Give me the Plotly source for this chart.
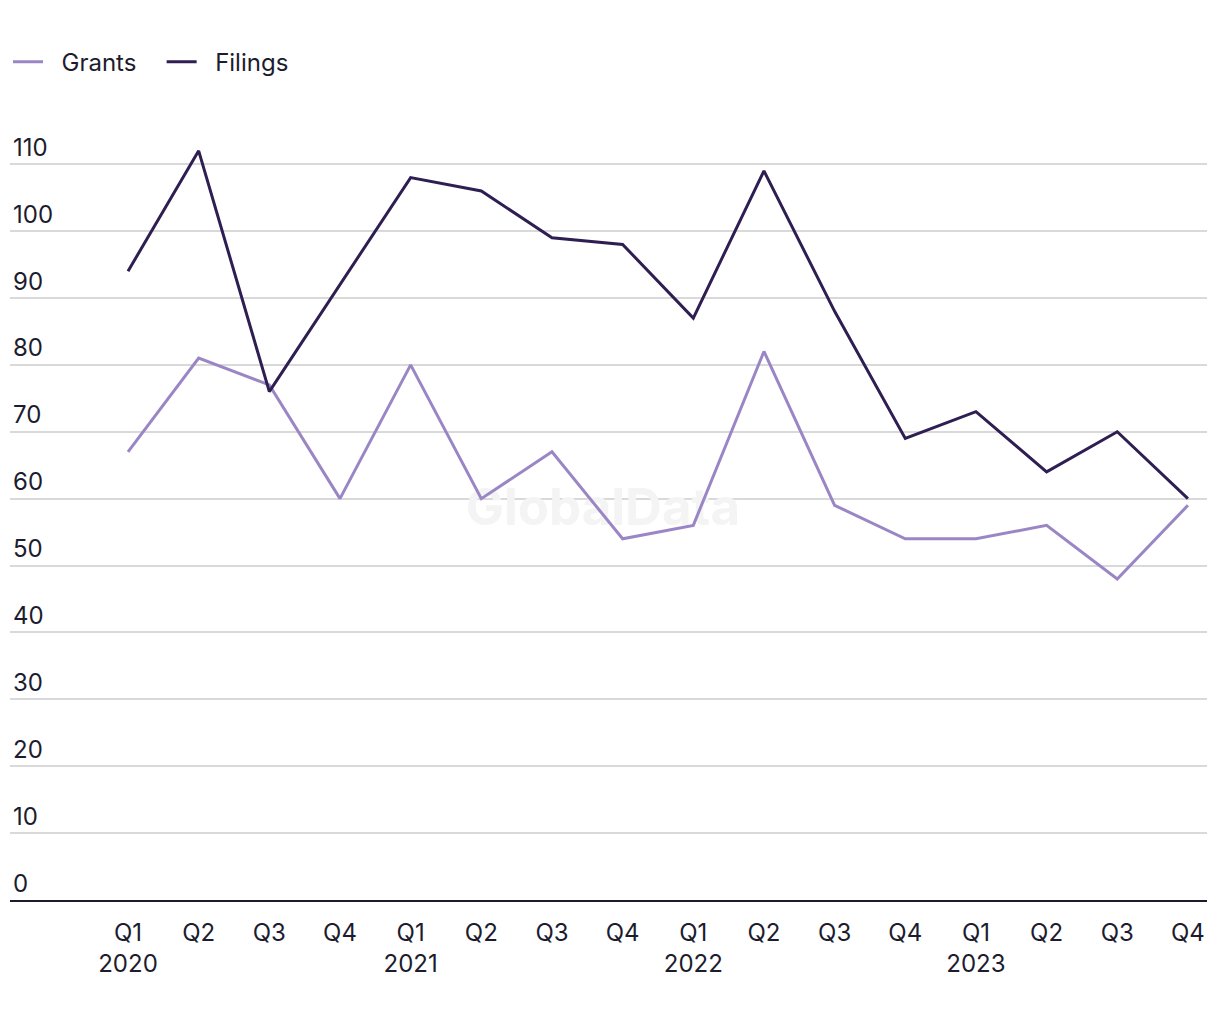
import plotly.graph_objects as go

quarters = ["Q1<br>2020", "Q2", "Q3", "Q4",
            "Q1<br>2021", "Q2", "Q3", "Q4",
            "Q1<br>2022", "Q2", "Q3", "Q4",
            "Q1<br>2023", "Q2", "Q3", "Q4"]
grants = [67, 81, 77, 60, 80, 60, 67, 54, 56, 82, 59, 54, 54, 56, 48, 59]
filings = [94, 112, 76, 92, 108, 106, 99, 98, 87, 109, 88, 69, 73, 64, 70, 60]
y_ticks = [0, 10, 20, 30, 40, 50, 60, 70, 80, 90, 100, 110]

FONT = "Inter, Roboto, sans-serif"
TEXT = "#1c1c2e"
x_idx = list(range(len(quarters)))
NB = "\u00a0"

fig = go.Figure()
# watermark behind the lines
fig.add_trace(go.Scatter(x=[6.72], y=[58], mode="text", text=["<b>GlobalData</b>"],
                         textfont=dict(family=FONT, size=51, color="#f4f4f4"),
                         hoverinfo="skip", showlegend=False))
fig.add_trace(go.Scatter(x=x_idx, y=grants, name=NB * 2 + "Grants" + NB * 3, mode="lines",
                         line=dict(color="#9b86c5", width=3)))
fig.add_trace(go.Scatter(x=x_idx, y=filings, name=NB * 2 + "Filings", mode="lines",
                         line=dict(color="#2f1e52", width=3)))

fig.update_layout(
    width=1220, height=1020,
    margin=dict(l=2, r=21, t=102, b=128, autoexpand=False),
    paper_bgcolor="white", plot_bgcolor="white",
    font=dict(family=FONT, size=24, color=TEXT),
    showlegend=True,
    legend=dict(orientation="h", xref="container", yref="container",
                x=-0.0045, y=0.947, xanchor="left", yanchor="middle",
                font=dict(size=24, color=TEXT), itemwidth=30,
                traceorder="normal"),
    xaxis=dict(tickmode="array", tickvals=x_idx, ticktext=quarters,
               range=[-1.67, 15.27], showgrid=False, zeroline=False,
               showline=True, linecolor="#1c1c2e", linewidth=2,
               ticks="outside", ticklen=10, tickcolor="rgba(0,0,0,0)",
               tickfont=dict(size=24, color=TEXT), automargin=False),
    yaxis=dict(tickmode="array", tickvals=y_ticks, range=[0, 118.1],
               showgrid=True, gridcolor="#d9d9d9", gridwidth=1.5,
               zeroline=False, showline=False,
               ticklabelposition="inside top", ticks="",
               tickfont=dict(size=24, color=TEXT), automargin=False),
)

fig.write_html("out.html")
